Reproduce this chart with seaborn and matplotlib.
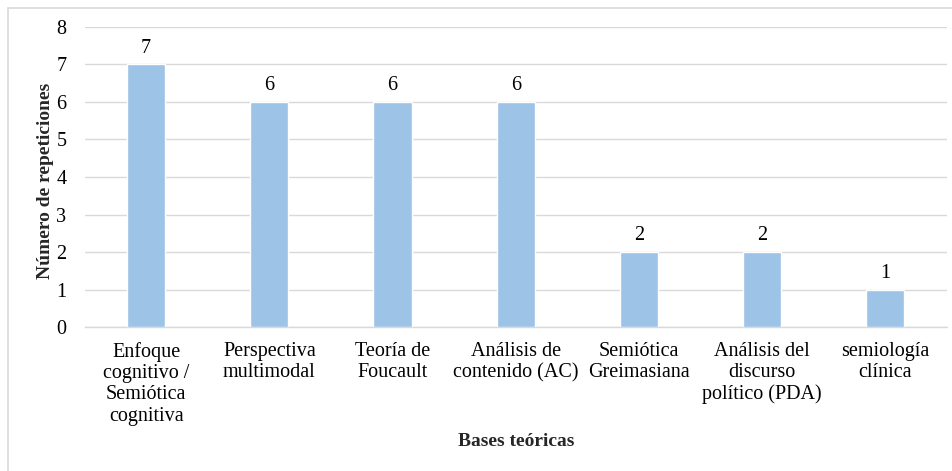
import matplotlib
matplotlib.use("Agg")
import matplotlib.pyplot as plt
import seaborn as sns
import pandas as pd
from matplotlib.patches import Rectangle

categorias = [
    "Enfoque\ncognitivo /\nSemiótica\ncognitiva",
    "Perspectiva\nmultimodal",
    "Teoría de\nFoucault",
    "Análisis de\ncontenido (AC)",
    "Semiótica\nGreimasiana",
    "Análisis del\ndiscurso\npolítico (PDA)",
    "semiología\nclínica",
]
repeticiones = [7, 6, 6, 6, 2, 2, 1]
yticks = [0, 1, 2, 3, 4, 5, 6, 7, 8]

sns.set_theme(style="white")
plt.rcParams["font.family"] = ["Liberation Serif", "DejaVu Serif"]

df = pd.DataFrame({"cat": categorias, "rep": repeticiones})

fig = plt.figure(figsize=(9.53, 4.71), dpi=100)
ax = fig.add_axes([0.0887, 0.3057, 0.905, 0.637])

sns.barplot(data=df, x="cat", y="rep", color="#9DC3E6", saturation=1,
            width=0.31, ax=ax, zorder=3)

FS = 14.5
ax.set_ylim(0, 8)
ax.set_yticks(yticks)
ax.set_yticklabels([str(t) for t in yticks], fontsize=FS, color="#000000")
ax.yaxis.grid(True, color="#D9D9D9", linewidth=1.0, zorder=0)
ax.set_axisbelow(True)
for side in ["top", "right", "left"]:
    ax.spines[side].set_visible(False)
ax.spines["bottom"].set_color("#D9D9D9")
ax.spines["bottom"].set_linewidth(1.0)
ax.tick_params(axis="x", length=0, pad=10.5)
ax.tick_params(axis="y", length=0, pad=13)
ax.set_xticks(range(len(categorias)))
ax.set_xticklabels(categorias, fontsize=FS, linespacing=1.17, color="#000000")

for c in ax.containers:
    ax.bar_label(c, labels=[str(v) for v in repeticiones], padding=5,
                 fontsize=FS, color="#000000")

ax.set_ylabel("Número de repeticiones", fontsize=14, fontweight="bold")
ax.yaxis.label.set_va("center")
ax.yaxis.set_label_coords(-0.045, 0.488)
ax.set_xlabel("Bases teóricas", fontsize=14, fontweight="bold")
ax.xaxis.label.set_va("center")
ax.xaxis.set_label_coords(0.5, -0.382)

# thin frame around the whole chart
fig.patches.append(Rectangle((8.5 / 953, -0.02), 1.1, 1 - 8 / 471 + 0.02,
                             transform=fig.transFigure, fill=False,
                             edgecolor="#D9D9D9", linewidth=1.2))

fig.savefig("out.png", dpi=100, facecolor="white")
